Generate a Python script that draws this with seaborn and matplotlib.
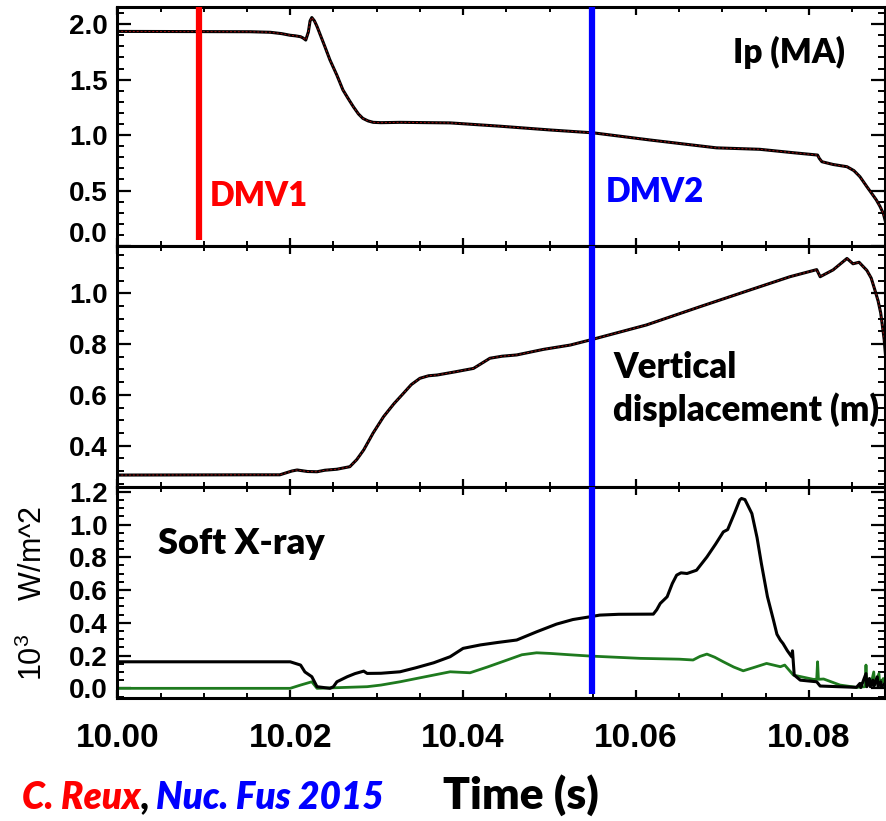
import matplotlib
matplotlib.use("Agg")
import matplotlib.pyplot as plt
from matplotlib.ticker import MultipleLocator, FuncFormatter
import seaborn as sns

# ---- plasma current Ip (MA) ----
ip_time = [10.0000, 10.0154, 10.0177, 10.0190, 10.0200, 10.0206, 10.0212, 10.0215,
           10.0218, 10.0221, 10.0223, 10.0225, 10.0228, 10.0231, 10.0240, 10.0246,
           10.0254, 10.0261, 10.0267, 10.0273, 10.0279, 10.0284, 10.0290, 10.0296,
           10.0305, 10.0327, 10.0385, 10.0443, 10.0501, 10.0551, 10.0616, 10.0693,
           10.0743, 10.0782, 10.0810, 10.0812, 10.0815, 10.0828, 10.0844, 10.0852,
           10.0859, 10.0867, 10.0873, 10.0878, 10.0882, 10.0886, 10.0889]
ip_value = [1.935, 1.932, 1.927, 1.915, 1.900, 1.895, 1.887, 1.875,
            1.857, 1.930, 2.030, 2.060, 2.030, 1.980, 1.800, 1.677,
            1.540, 1.407, 1.330, 1.256, 1.190, 1.151, 1.128, 1.115,
            1.112, 1.115, 1.110, 1.080, 1.046, 1.020, 0.956, 0.885,
            0.872, 0.841, 0.820, 0.790, 0.760, 0.735, 0.715, 0.680,
            0.625, 0.535, 0.470, 0.415, 0.360, 0.295, 0.207]

# ---- vertical displacement (m) ----
z_time = [10.0000, 10.0154, 10.0188, 10.0202, 10.0208, 10.0220, 10.0231, 10.0240,
          10.0254, 10.0269, 10.0277, 10.0285, 10.0296, 10.0308, 10.0320, 10.0331,
          10.0340, 10.0350, 10.0360, 10.0370, 10.0390, 10.0412, 10.0422, 10.0431,
          10.0445, 10.0462, 10.0493, 10.0524, 10.0547, 10.0612, 10.0674, 10.0732,
          10.0778, 10.0809, 10.0813, 10.0828, 10.0844, 10.0851, 10.0858, 10.0867,
          10.0872, 10.0876, 10.0880, 10.0883, 10.0887, 10.0889]
z_value = [0.284, 0.285, 0.285, 0.300, 0.304, 0.298, 0.297, 0.303,
           0.307, 0.317, 0.345, 0.383, 0.450, 0.514, 0.565, 0.606,
           0.640, 0.665, 0.675, 0.678, 0.690, 0.704, 0.725, 0.744,
           0.752, 0.757, 0.779, 0.796, 0.816, 0.875, 0.947, 1.013,
           1.065, 1.093, 1.065, 1.092, 1.137, 1.116, 1.122, 1.090,
           1.060, 1.016, 0.970, 0.923, 0.819, 0.740]

# ---- soft X-ray, two chords (10^3 W/m^2) ----
sxr1_time = [10.0000, 10.0200, 10.0212, 10.0217, 10.0225, 10.0231, 10.0246, 10.0250,
             10.0254, 10.0266, 10.0275, 10.0285, 10.0289, 10.0305, 10.0327, 10.0345,
             10.0366, 10.0385, 10.0400, 10.0420, 10.0440, 10.0462, 10.0485, 10.0508,
             10.0527, 10.0547, 10.0558, 10.0580, 10.0620, 10.0624, 10.0628, 10.0636,
             10.0642, 10.0647, 10.0652, 10.0659, 10.0670, 10.0682, 10.0692, 10.0701,
             10.0706, 10.0714, 10.0720, 10.0722, 10.0726, 10.0734, 10.0740, 10.0745,
             10.0752, 10.0759, 10.0763, 10.0767, 10.0770, 10.0775, 10.0780, 10.0781,
             10.0783, 10.0790, 10.0809, 10.0813, 10.0855, 10.0859, 10.0860, 10.0866,
             10.0867, 10.0870, 10.0871, 10.0874, 10.0875, 10.0879, 10.0880, 10.0883,
             10.0884, 10.0888]
sxr1_value = [0.162, 0.162, 0.142, 0.100, 0.071, 0.010, 0.000, 0.010,
              0.040, 0.071, 0.090, 0.105, 0.091, 0.092, 0.101, 0.125,
              0.156, 0.193, 0.244, 0.265, 0.280, 0.295, 0.345, 0.392,
              0.420, 0.437, 0.447, 0.452, 0.453, 0.480, 0.518, 0.559,
              0.640, 0.691, 0.705, 0.701, 0.721, 0.802, 0.880, 0.955,
              0.969, 1.070, 1.150, 1.159, 1.152, 1.067, 0.920, 0.762,
              0.560, 0.416, 0.330, 0.294, 0.274, 0.230, 0.193, 0.229,
              0.081, 0.050, 0.040, 0.014, 0.006, 0.030, 0.005, 0.090,
              0.010, 0.060, 0.010, 0.050, 0.010, 0.070, 0.010, 0.040,
              0.010, 0.030]
sxr2_time = [10.0000, 10.0200, 10.0212, 10.0225, 10.0231, 10.0289, 10.0305, 10.0327,
             10.0346, 10.0366, 10.0385, 10.0408, 10.0428, 10.0451, 10.0468, 10.0485,
             10.0501, 10.0523, 10.0547, 10.0605, 10.0650, 10.0666, 10.0674, 10.0682,
             10.0691, 10.0701, 10.0713, 10.0724, 10.0738, 10.0751, 10.0767, 10.0772,
             10.0782, 10.0805, 10.0809, 10.0810, 10.0811, 10.0817, 10.0836, 10.0855,
             10.0865, 10.0866, 10.0867, 10.0872, 10.0875, 10.0876, 10.0881, 10.0882,
             10.0886, 10.0888]
sxr2_value = [0.000, 0.000, 0.020, 0.040, 0.000, 0.010, 0.020, 0.040,
              0.060, 0.081, 0.101, 0.095, 0.130, 0.173, 0.205, 0.217,
              0.213, 0.205, 0.197, 0.183, 0.178, 0.173, 0.195, 0.209,
              0.190, 0.162, 0.130, 0.107, 0.130, 0.152, 0.132, 0.142,
              0.081, 0.055, 0.055, 0.162, 0.055, 0.057, 0.020, 0.006,
              0.010, 0.142, 0.020, 0.030, 0.100, 0.020, 0.090, 0.020,
              0.060, 0.010]

# ---- massive gas injection times ----
dmv_labels = ["DMV1", "DMV2"]
dmv_times = [10.0094, 10.0549]
dmv_colors = ["#ff0000", "#0000ff"]

x_ticks = [10.00, 10.02, 10.04, 10.06, 10.08]

sns.set_theme(style="ticks")
plt.rcParams["font.family"] = ["Liberation Sans", "DejaVu Sans"]
plt.rcParams["mathtext.default"] = "regular"
for key in ("text.color", "axes.labelcolor", "xtick.color", "ytick.color"):
    plt.rcParams[key] = "black"

W, H = 886, 821
fig = plt.figure(figsize=(W / 100, H / 100), dpi=100)

def fx(px):
    return px / W

def fy(py):
    return 1 - py / H

left, right = 117.3, 885
rows = [(7, 246), (246, 487), (487, 698)]
axes = []
for top, bot in rows:
    ax = fig.add_axes([fx(left), fy(bot), fx(right) - fx(left), (bot - top) / H])
    axes.append(ax)
ax1, ax2, ax3 = axes

trace_kw = dict(color="black", linewidth=2.2)
overlay_kw = dict(color="#a01010", linewidth=0.7, linestyle=(0, (2, 2)))

sns.lineplot(x=ip_time, y=ip_value, ax=ax1, **trace_kw)
sns.lineplot(x=ip_time, y=ip_value, ax=ax1, **overlay_kw)
sns.lineplot(x=z_time, y=z_value, ax=ax2, **trace_kw)
sns.lineplot(x=z_time, y=z_value, ax=ax2, **overlay_kw)
sns.lineplot(x=sxr2_time, y=sxr2_value, ax=ax3, color="#1e7a1e", linewidth=2.0)
sns.lineplot(x=sxr1_time, y=sxr1_value, ax=ax3, color="black", linewidth=2.2)

ax1.set_ylim(0.0, 2.155)
ax2.set_ylim(0.237, 1.186)
ax3.set_ylim(-0.059, 1.229)

ax1.yaxis.set_major_locator(MultipleLocator(0.5))
ax1.yaxis.set_minor_locator(MultipleLocator(0.1))
for ax in (ax2, ax3):
    ax.yaxis.set_major_locator(MultipleLocator(0.2))
    ax.yaxis.set_minor_locator(MultipleLocator(0.05))

fmt = FuncFormatter(lambda v, pos: f"{v:.1f}")
# the bottom label of the top panel is placed by hand just above the panel edge
fmt_top = FuncFormatter(lambda v, pos: "" if abs(v) < 1e-9 else f"{v:.1f}")

for ax in axes:
    ax.set_xlim(10.0, 10.0888)
    ax.set_xticks(x_ticks)
    ax.xaxis.set_minor_locator(MultipleLocator(0.005))
    ax.yaxis.set_major_formatter(fmt_top if ax is ax1 else fmt)
    ax.set_xlabel("")
    ax.set_ylabel("")
    for s in ax.spines.values():
        s.set_visible(True)
        s.set_linewidth(2.2)
        s.set_color("black")
    ax.tick_params(axis="y", which="major", direction="in", length=10, width=1.6,
                   left=True, right=True, labelsize=20, pad=7)
    ax.tick_params(axis="y", which="minor", direction="in", length=5, width=1.4,
                   left=True, right=True)
    ax.tick_params(axis="x", which="major", direction="in", length=6, width=1.6,
                   top=True, bottom=True)
    ax.tick_params(axis="x", which="minor", direction="in", length=3.5, width=1.4,
                   top=True, bottom=True)
    for lab in ax.get_yticklabels():
        lab.set_fontweight("bold")
    if ax is not ax3:
        ax.tick_params(axis="x", labelbottom=False)

ax1.annotate("0.0", xy=(0, 0.0), xycoords=("axes fraction", "data"),
             xytext=(-10, 11), textcoords="offset pixels", ha="right", va="center",
             fontsize=20, fontweight="bold")

ax3.tick_params(axis="x", which="major", labelsize=24, pad=18)
ax3.set_xticklabels([f"{t:.2f}" for t in x_ticks])
for lab in ax3.get_xticklabels():
    lab.set_fontweight("bold")
    lab.set_family(["Liberation Sans Narrow", "Liberation Sans"])
    lab.set_fontsize(24)

# injection markers
ax1.vlines(dmv_times[0], 0.05, 2.155, color=dmv_colors[0], linewidth=4.5, zorder=5)
ax1.vlines(dmv_times[1], 0.0, 2.155, color=dmv_colors[1], linewidth=4.5, zorder=5)
ax2.vlines(dmv_times[1], 0.237, 1.186, color=dmv_colors[1], linewidth=4.5, zorder=5)
ax3.vlines(dmv_times[1], -0.037, 1.229, color=dmv_colors[1], linewidth=4.5, zorder=5)

label_font = ["Lato", "DejaVu Sans"]
heavy = "heavy"
ax1.text(dmv_times[0] + 0.0013, 0.45, dmv_labels[0], color=dmv_colors[0],
         fontsize=23.5, fontweight=heavy, family=label_font, va="center", ha="left")
ax1.text(dmv_times[1] + 0.0016, 0.49, dmv_labels[1], color=dmv_colors[1],
         fontsize=23.5, fontweight=heavy, family=label_font, va="center", ha="left")

fig.text(fx(845), fy(52), "Ip (MA)", fontsize=24, fontweight=heavy,
         family=label_font, ha="right", va="center")
fig.text(fx(613), fy(367), "Vertical", fontsize=25, fontweight=heavy,
         family=label_font, ha="left", va="center")
fig.text(fx(613), fy(410), "displacement (m)", fontsize=25, fontweight=heavy,
         family=label_font, ha="left", va="center")
fig.text(fx(158), fy(543), "Soft X-ray", fontsize=26, fontweight=heavy,
         family=label_font, ha="left", va="center")

fig.text(fx(33), fy(593), r"10$^3$    W/m^2", rotation=90, fontsize=22,
         ha="center", va="center")

fig.text(fx(521), fy(795), "Time (s)", fontsize=32, fontweight=heavy,
         family=label_font, ha="center", va="center")

cite_y = fy(797)
cite_kw = dict(fontsize=26.5, fontweight=heavy, fontstyle="italic", family=label_font,
               ha="left", va="center")
t1 = fig.text(fx(22), cite_y, "C. Reux", color="#ff0000", **cite_kw)
fig.canvas.draw()
r = fig.canvas.get_renderer()
bb = t1.get_window_extent(r)
t2 = fig.text(bb.x1 / W, cite_y, ",", color="black", **cite_kw)
bb2 = t2.get_window_extent(r)
fig.text(bb2.x1 / W + 0.007, cite_y, "Nuc. Fus 2015", color="#0000ff", **cite_kw)

fig.savefig("out.png", dpi=100)
